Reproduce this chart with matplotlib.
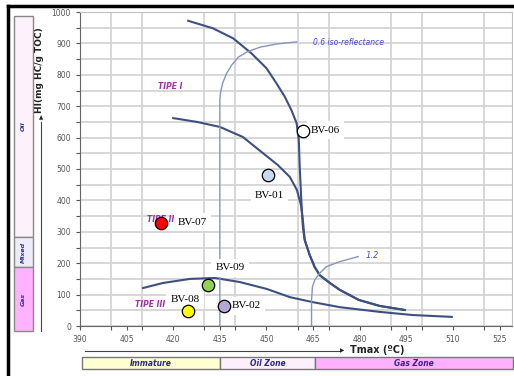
import matplotlib.pyplot as plt
from matplotlib.patches import Rectangle
from matplotlib.ticker import MultipleLocator

# kerogen type curves (Tmax, HI)
type1_x = [424.8, 432.8, 439.3, 445.2, 450.0, 453.2, 455.9, 458.0, 459.7, 460.4, 460.7, 461.2,
           461.7, 462.3, 463.9, 465.5, 467.1, 470.4, 473.6, 479.7, 486.4, 494.5]
type1_y = [972, 948, 916, 868, 821, 773, 730, 688, 646, 592, 506, 401,
           315, 274, 226, 188, 162, 137, 115, 83, 64, 51]
type2_x = [420.0, 427.6, 435.0, 442.4, 448.8, 453.6, 457.5, 459.8, 461.1, 461.7, 462.3,
           463.9, 465.5, 467.1, 470.4, 473.6, 479.7, 486.4, 494.5]
type2_y = [662, 650, 634, 602, 551, 513, 475, 433, 385, 338, 274,
           226, 188, 162, 137, 115, 83, 64, 51]
type3_x = [410.3, 416.7, 425.4, 433.4, 441.4, 450.1, 457.5, 464.9, 473.6, 486.4, 497.0, 509.6]
type3_y = [121, 137, 150, 153, 140, 118, 92, 76, 60, 45, 35, 29]

# iso-reflectance lines
iso06_x = [435.0, 435.0, 435.2, 435.9, 437.2, 438.8, 440.9, 443.6, 447.9, 453.2, 459.7]
iso06_y = [0, 720, 742, 774, 805, 831, 856, 872, 888, 898, 905]
iso12_x = [464.5, 464.5, 464.8, 465.5, 467.1, 469.3, 473.6, 479.5]
iso12_y = [0, 83, 125, 146, 168, 189, 205, 221]

# samples
samples = ['BV-06', 'BV-01', 'BV-07', 'BV-09', 'BV-08', 'BV-02']
tmax = [461.7, 450.4, 416.0, 431.1, 424.7, 436.3]
hi = [621, 481, 328, 131, 48, 64]
colors = ['#ffffff', '#c6d9f0', '#ff0000', '#92d050', '#ffff00', '#b4a7d6']
label_pos = [(464.3, 624, 'left'), (451.0, 417, 'center'), (421.5, 331, 'left'),
             (438.2, 185, 'center'), (423.8, 83, 'center'), (438.9, 64, 'left')]

W, H = 514, 376
fig = plt.figure(figsize=(W / 100, H / 100), dpi=100)


def fx(px):
    return px / W


def fy(py):
    return 1 - py / H


ax = fig.add_axes([fx(80), fy(326), fx(512) - fx(80), fy(12) - fy(326)])
ax.set_xlim(390, 529)
ax.set_ylim(0, 1000)
ax.xaxis.set_major_locator(MultipleLocator(15))
ax.yaxis.set_major_locator(MultipleLocator(100))
ax.yaxis.set_minor_locator(MultipleLocator(50))
ax.set_xticks(range(390, 530, 10), minor=True)
ax.grid(which='minor', color='#d4d4d4', lw=1.3)
ax.grid(which='major', axis='y', color='#d4d4d4', lw=1.3)
ax.set_axisbelow(True)
ax.tick_params(which='both', labelsize=5.5, labelcolor='#555555', color='#555555',
               length=3, width=0.8)
for s in ['top', 'right']:
    ax.spines[s].set_color('#c0c0c0')
for s in ['left', 'bottom']:
    ax.spines[s].set_color('#666666')

curve_c = '#3d5080'
ax.plot(type1_x, type1_y, color=curve_c, lw=1.5)
ax.plot(type2_x, type2_y, color=curve_c, lw=1.5)
ax.plot(type3_x, type3_y, color=curve_c, lw=1.5)
ax.plot(iso06_x, iso06_y, color='#8595bb', lw=1.0)
ax.plot(iso12_x, iso12_y, color='#8595bb', lw=1.0)
ax.text(465, 904, '0.6 iso-reflectance', color='#4a4ad0', fontsize=5.5,
        style='italic', va='center')
ax.text(482, 223, '1.2', color='#4a4ad0', fontsize=6, style='italic', va='center')

tipe = dict(color='#a030a8', fontsize=5.5, style='italic', fontweight='bold', va='center')
ax.text(415, 763, 'TIPE I', **tipe)
ax.text(411.5, 340, 'TIPE II', **tipe)
ax.text(407.7, 67, 'TIPE III', **tipe)

for name, x, y, c, (lx, ly, ha) in zip(samples, tmax, hi, colors, label_pos):
    ax.scatter(x, y, s=80, color=c, edgecolor='black', lw=0.9, zorder=5)
    ax.text(lx, ly, name, family='Liberation Serif', fontsize=8, ha=ha, va='center',
            zorder=4, bbox=dict(facecolor='white', edgecolor='none', pad=3))

# outer black frame
fig.add_artist(plt.Line2D([fx(8), fx(8)], [0, fy(6)], color='black', lw=2.5))
fig.add_artist(plt.Line2D([fx(8), 1], [fy(6), fy(6)], color='black', lw=2.5))

# left maturity column
for top, bot, col, lab in [(16, 237, '#fdf2fb', 'Oil'), (237, 267, '#ececfa', 'Mixed'),
                           (267, 331, '#ffb3ff', 'Gas')]:
    fig.add_artist(Rectangle((fx(14), fy(bot)), fx(33) - fx(14), fy(top) - fy(bot),
                             facecolor=col, edgecolor='#888888', lw=1.0))
    fig.text(fx(23.5), fy((top + bot) / 2), lab, rotation=90, fontsize=4.5,
             color='#3030a0', style='italic', fontweight='bold', ha='center', va='center')

# y label with arrow
fig.add_artist(plt.Line2D([fx(41), fx(41)], [fy(331), fy(122)], color='#444444', lw=0.8))
fig.text(fx(41), fy(118), '\u25b2', fontsize=4, color='#222222', ha='center', va='center')
fig.text(fx(40), fy(70), 'HI(mg HC/g TOC)', rotation=90, fontsize=6.5, fontweight='bold',
         color='#222222', ha='center', va='center')

# x label with arrow
fig.add_artist(plt.Line2D([fx(85), fx(340)], [fy(351), fy(351)], color='#444444', lw=0.8))
fig.text(fx(342), fy(351), '\u25b6', fontsize=4, color='#222222', ha='center', va='center')
fig.text(fx(350), fy(350), 'Tmax (ºC)', fontsize=7, fontweight='bold', color='#222222',
         ha='left', va='center')

# bottom zone bar
for x0, x1, col, lab in [(82, 220, '#ffffd2', 'Immature'), (220, 315, '#fdf0fd', 'Oil Zone'),
                         (315, 513, '#ffb0ff', 'Gas Zone')]:
    fig.add_artist(Rectangle((fx(x0), fy(369)), fx(x1) - fx(x0), fy(357) - fy(369),
                             facecolor=col, edgecolor='#777777', lw=1.0))
    fig.text(fx((x0 + x1) / 2), fy(363), lab, fontsize=5.5, color='#2a2a90',
             style='italic', fontweight='bold', ha='center', va='center')

fig.savefig('out.png', dpi=100)
